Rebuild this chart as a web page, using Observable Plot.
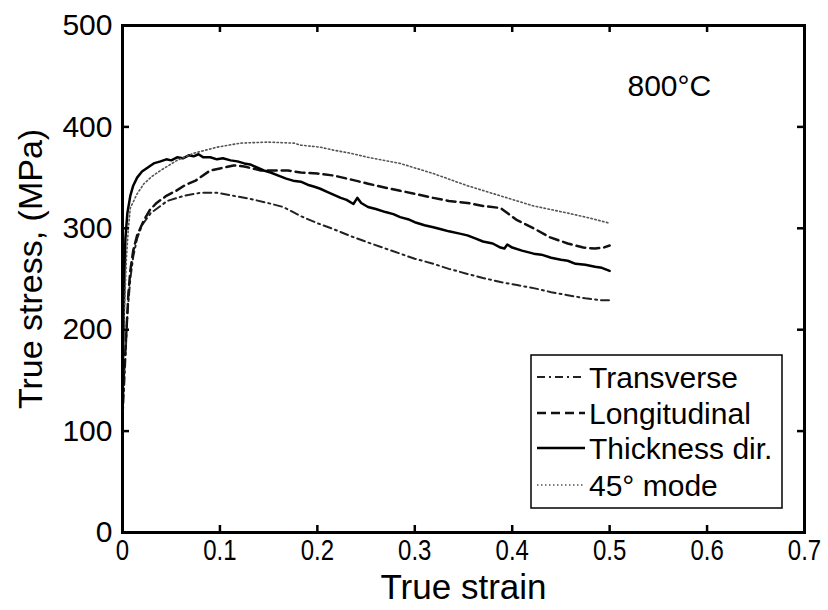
<!DOCTYPE html>
<html><head><meta charset="utf-8">
<script src="https://cdn.jsdelivr.net/npm/d3@7"></script>
<script src="https://cdn.jsdelivr.net/npm/@observablehq/plot@0.6"></script>
<style>
body{margin:0;background:#fff}
#wrap{position:relative;width:828px;height:610px}
</style>
</head><body><div id="wrap"></div>
<script>
// ---- data ----
const xTicks = [0, 0.1, 0.2, 0.3, 0.4, 0.5, 0.6, 0.7];
const yTicks = [0, 100, 200, 300, 400, 500];
const seriesNames = ["Transverse", "Longitudinal", "Thickness dir.", "45\u00B0 mode"];

const transverse = [[0,110],[0.002,150],[0.005,215],[0.008,250],[0.011,272],[0.015,290],[0.02,303],[0.029,315],[0.046,327],[0.063,332],[0.08,335],[0.097,335],[0.114,332],[0.131,329],[0.149,325],[0.165,321],[0.183,312],[0.2,305],[0.217,299],[0.235,292],[0.252,286],[0.27,280],[0.285,275],[0.3,270],[0.319,265],[0.335,260],[0.354,255],[0.37,251],[0.388,247],[0.405,244],[0.422,241],[0.44,237],[0.457,234],[0.475,231],[0.491,229],[0.5,229]];

const longitudinal = [[0,120],[0.001,150],[0.003,180],[0.006,235],[0.008,258],[0.011,278],[0.015,293],[0.022,308],[0.028,318],[0.035,325],[0.045,332],[0.055,337],[0.065,343],[0.075,347],[0.09,357],[0.1,359],[0.114,362],[0.125,361],[0.142,357],[0.17,357],[0.183,355],[0.2,354],[0.217,352],[0.235,348],[0.252,344],[0.27,340],[0.285,337],[0.3,334],[0.319,330],[0.335,327],[0.354,325],[0.37,322],[0.388,320],[0.395,315],[0.405,308],[0.422,300],[0.439,291],[0.457,285],[0.473,281],[0.485,280],[0.494,281],[0.5,283]];

const thickness = [[0,135],[0.001,200],[0.002,255],[0.003,290],[0.005,315],[0.008,332],[0.011,342],[0.015,350],[0.02,356],[0.026,360],[0.032,364],[0.039,366],[0.045,368],[0.05,367],[0.056,370],[0.062,369],[0.068,372],[0.073,371],[0.078,373],[0.083,370],[0.09,370],[0.097,368],[0.103,369],[0.111,367],[0.118,366],[0.125,364],[0.131,363],[0.138,360],[0.145,357],[0.152,355],[0.16,352],[0.168,349],[0.175,347],[0.183,346],[0.19,343],[0.197,341],[0.203,339],[0.21,336],[0.217,333],[0.224,330],[0.23,328],[0.237,324],[0.241,330],[0.245,325],[0.252,321],[0.26,319],[0.27,316],[0.278,314],[0.285,311],[0.293,309],[0.3,306],[0.31,303],[0.319,301],[0.327,299],[0.335,297],[0.345,295],[0.354,293],[0.362,290],[0.37,287],[0.38,285],[0.388,281],[0.392,280],[0.395,284],[0.4,281],[0.41,278],[0.422,275],[0.43,274],[0.44,271],[0.45,269],[0.457,268],[0.465,265],[0.475,264],[0.485,262],[0.492,261],[0.5,258]];

const mode45 = [[0,130],[0.001,180],[0.002,220],[0.004,270],[0.006,300],[0.008,320],[0.015,334],[0.022,344],[0.03,351],[0.039,357],[0.056,367],[0.073,374],[0.097,380],[0.121,384],[0.149,385],[0.176,384],[0.183,382],[0.203,380],[0.217,377],[0.234,374],[0.252,370],[0.285,364],[0.319,354],[0.354,342],[0.388,332],[0.422,322],[0.457,315],[0.48,310],[0.5,305]];

// ---- styles ----
const styles = {
  "Transverse": {dash: "8,4,2,4", width: 2, color: "#222"},
  "Longitudinal": {dash: "9,5", width: 2.5, color: "#111"},
  "Thickness dir.": {dash: null, width: 2.5, color: "#000"},
  "45\u00B0 mode": {dash: "1.5,2.5", width: 1.6, color: "#555"}
};
const allSeries = [transverse, longitudinal, thickness, mode45];

const W = 828, H = 610, mL = 122, mR = 24, mT = 25, mB = 78;
const tickPx = 7;
const xPerPx = 0.7 / (W - mL - mR);
const yPerPx = 500 / (H - mT - mB);

const lineMarks = allSeries.map((s, i) => {
  const st = styles[seriesNames[i]];
  return Plot.line(s, {x: d => d[0], y: d => d[1], stroke: st.color, strokeWidth: st.width,
    strokeDasharray: st.dash || undefined, curve: "linear"});
});

const chart = Plot.plot({
  width: W, height: H,
  marginLeft: mL, marginRight: mR, marginTop: mT, marginBottom: mB,
  style: {fontFamily: "'Liberation Sans', Arial, sans-serif", background: "white", color: "black"},
  x: {domain: [0, 0.7]},
  y: {domain: [0, 500]},
  marks: [
    ...lineMarks,
    // inward ticks on all four sides
    Plot.ruleX(xTicks.slice(1, -1), {y1: 0, y2: tickPx * yPerPx, stroke: "black", strokeWidth: 2.5}),
    Plot.ruleX(xTicks.slice(1, -1), {y1: 500, y2: 500 - tickPx * yPerPx, stroke: "black", strokeWidth: 2.5}),
    Plot.ruleY(yTicks.slice(1, -1), {x1: 0, x2: tickPx * xPerPx, stroke: "black", strokeWidth: 2.5}),
    Plot.ruleY(yTicks.slice(1, -1), {x1: 0.7, x2: 0.7 - tickPx * xPerPx, stroke: "black", strokeWidth: 2.5}),
    Plot.frame({stroke: "black", strokeWidth: 3}),
    Plot.axisX(xTicks, {tickSize: 0, tickPadding: 6, fontSize: 30, label: null,
      ariaLabel: "x-axis",
      tickFormat: d => String(d)}),
    Plot.axisY(yTicks, {tickSize: 0, tickPadding: 10, fontSize: 30, label: null, tickFormat: d => String(d)}),
    Plot.text(["True strain"], {frameAnchor: "bottom", dy: 66, fontSize: 35, fill: "black"}),
    Plot.text(["True stress, (MPa)"], {frameAnchor: "left", textAnchor: "middle", dx: -91, dy: -10, rotate: -90, fontSize: 34, fill: "black"}),
    Plot.text(["800\u00B0C"], {frameAnchor: "top-left", dx: 505, dy: 49, textAnchor: "start", fontSize: 30, fill: "black"})
  ]
});

document.getElementById("wrap").appendChild(chart);

const svg = d3.select(chart);
// condensed look of the x tick labels
svg.selectAll("g[aria-label='x-axis tick label'] text").each(function() {
  const t = d3.select(this);
  const tr = t.attr("transform") || "";
  t.attr("transform", tr + " scale(0.8,1)");
});

// ---- legend inside the plot (lower right) ----
const lg = svg.append("g").attr("class", "legend").attr("text-anchor", "start");
const box = {x: 531, y: 355, w: 251, h: 153};
lg.append("rect").attr("x", box.x).attr("y", box.y).attr("width", box.w).attr("height", box.h)
  .attr("fill", "white").attr("stroke", "black").attr("stroke-width", 1.5);
const rowY = [377, 413, 448, 485];
seriesNames.forEach((name, i) => {
  const st = styles[name];
  lg.append("line").attr("x1", box.x + 6).attr("x2", box.x + 54).attr("y1", rowY[i]).attr("y2", rowY[i])
    .attr("stroke", st.color).attr("stroke-width", st.width)
    .attr("stroke-dasharray", st.dash || null);
  lg.append("text").attr("x", box.x + 58).attr("y", rowY[i]).attr("dy", "0.35em")
    .attr("text-anchor", "start")
    .attr("font-size", 30).attr("font-family", "'Liberation Sans', Arial, sans-serif")
    .attr("fill", "black").text(name);
});
</script>
</body></html>
